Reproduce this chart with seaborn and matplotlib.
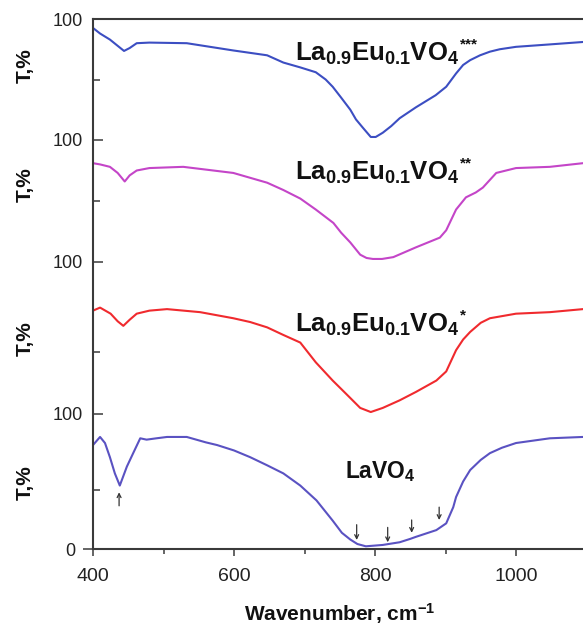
import numpy as np
import pandas as pd
import matplotlib
matplotlib.use("Agg")
import matplotlib.pyplot as plt
import matplotlib.lines as mlines
import matplotlib.transforms as mtransforms
import seaborn as sns

# ---- spectra (transmittance, % of each panel's scale) ----
wn_s3 = [400, 410, 424, 444, 452, 462, 480, 533, 599, 623, 647, 670, 694, 716, 730, 740,
         752, 765, 773, 783, 794, 801, 811, 823, 835, 858, 886, 901, 915, 925, 935, 949,
         963, 977, 1000, 1048, 1095]
t_s3 = [92.6, 88, 83, 73.6, 76, 80, 80.5, 80, 74, 72, 70, 64, 60, 56, 50, 44,
        35, 25, 17, 10, 2.5, 2.5, 6, 11.5, 18, 27, 37, 44, 55, 62, 66, 70,
        73, 75, 77, 79, 81]

wn_s2 = [400, 410, 424, 435, 445, 452, 462, 480, 528, 599, 623, 647, 670, 694, 716, 741,
         752, 765, 779, 788, 797, 810, 826, 858, 892, 901, 915, 929, 943, 953, 972, 1000,
         1048, 1095]
t_s2 = [81, 80, 78, 73, 66, 71, 75, 77, 78, 73, 69, 65, 59, 52, 43, 32,
        24, 16, 6, 3.3, 2.5, 2.5, 4, 12, 20, 26, 43, 53, 57, 61, 73, 77,
        78, 81]

wn_s1 = [400, 410, 425, 435, 443, 452, 462, 480, 505, 552, 599, 623, 647, 670, 694, 716,
         740, 752, 765, 779, 794, 811, 835, 858, 887, 901, 915, 925, 935, 950, 963, 1000,
         1048, 1095]
t_s1 = [68, 70, 66, 61, 58, 62, 66, 68, 69, 67, 63, 60.5, 57, 52, 47, 34,
        22, 16.5, 10.5, 4, 1.3, 4, 9, 14.5, 22, 28, 42, 49, 54, 60, 63, 66,
        67, 69]

wn_la = [400, 410, 417, 424, 431, 438, 448, 457, 467, 476, 490, 505, 533, 560, 576, 600,
         623, 647, 670, 694, 717, 740, 753, 765, 775, 787, 811, 835, 850, 858, 887, 901,
         911, 915, 925, 935, 950, 963, 980, 1000, 1048, 1095]
t_la = [77, 83, 78.5, 68, 56, 47, 61, 71, 82, 81, 82, 83, 83, 79, 77, 73,
        68, 62, 56, 47, 36, 21, 12, 7, 3.7, 2, 3, 5, 7.5, 9, 14, 19,
        31, 38.5, 50, 58.5, 66, 71, 75, 78.5, 82, 83]

series_names = ["LaVO4", "S1", "S2", "S3"]
series_wn = [wn_la, wn_s1, wn_s2, wn_s3]
series_t = [t_la, t_s1, t_s2, t_s3]
series_colors = ["#5a52c2", "#f02a2e", "#c445c8", "#3c4ec2"]
series_labels = [r"LaVO$_4$",
                 r"La$_{0.9}$Eu$_{0.1}$VO$_4$",
                 r"La$_{0.9}$Eu$_{0.1}$VO$_4$",
                 r"La$_{0.9}$Eu$_{0.1}$VO$_4$"]
series_marks = ["", "*", "**", "***"]

# band markers on the LaVO4 spectrum (wavenumber, T tail, T head)
up_arrows = [(437, 32, 42)]
down_arrows = [(774, 18, 6.7), (818, 16, 5), (852, 21.5, 12), (891, 31, 21.5)]

y_tick_labels = ["0", "100", "100", "100", "100"]

# ---- stacked layout: each panel maps 0..100 % onto [lo, hi] ----
panel_edges = [0, 135, 287, 409, 530]
minor_frac = [0.44, 0.41, 0.50, 0.50]


def to_stack(i, t):
    lo, hi = panel_edges[i], panel_edges[i + 1]
    return lo + np.asarray(t, dtype=float) / 100.0 * (hi - lo)


frames = []
for i, (name, wn, t) in enumerate(zip(series_names, series_wn, series_t)):
    frames.append(pd.DataFrame({"wn": wn, "y": to_stack(i, t), "sample": name}))
df = pd.concat(frames, ignore_index=True)

sns.set_theme(style="ticks")
plt.rcParams["font.family"] = ["Liberation Sans", "DejaVu Sans"]
plt.rcParams["mathtext.fontset"] = "custom"
plt.rcParams["mathtext.rm"] = "Liberation Sans:bold"
plt.rcParams["mathtext.it"] = "Liberation Sans:bold"
plt.rcParams["mathtext.bf"] = "Liberation Sans:bold"
plt.rcParams["mathtext.default"] = "rm"

fig = plt.figure(figsize=(5.83, 6.26), dpi=100)
ax = fig.add_axes([93 / 583, 77 / 626, 493.5 / 583, 530 / 626])

sns.lineplot(data=df, x="wn", y="y", hue="sample", hue_order=series_names,
             palette=dict(zip(series_names, series_colors)), estimator=None,
             sort=False, legend=False, lw=1.5, ax=ax)

ax.set_xlim(400, 1100)
ax.set_ylim(panel_edges[0], panel_edges[-1])

spine_col = "#3a3a3a"
for side in ["left", "top", "bottom"]:
    ax.spines[side].set_linewidth(1.5)
    ax.spines[side].set_color(spine_col)
ax.spines["right"].set_visible(False)

# x axis
ax.set_xticks([400, 600, 800, 1000])
ax.set_xticks([500, 700, 900], minor=True)
ax.tick_params(axis="x", which="major", direction="out", length=5, width=1.1,
               color=spine_col, labelsize=14, pad=9, labelcolor="#222222")
ax.tick_params(axis="x", which="minor", direction="out", length=3.5, width=1.1,
               color=spine_col)
ax.set_xlabel(r"Wavenumber, cm$^{-1}$", fontsize=15, fontweight="bold",
              labelpad=11, color="#111111")

# y axis: "100" on top of every panel, "0" at the bottom
ytick_pos = panel_edges[1:] + panel_edges[:1]
ax.set_yticks(ytick_pos)
ax.set_yticklabels(y_tick_labels[1:] + y_tick_labels[:1])
minor_pos = [panel_edges[i] + f * (panel_edges[i + 1] - panel_edges[i])
             for i, f in enumerate(minor_frac)]
ax.set_yticks(minor_pos, minor=True)
ax.tick_params(axis="y", which="major", direction="in", length=7, width=1.1,
               color=spine_col, labelsize=13, pad=7, labelcolor="#222222")
ax.tick_params(axis="y", which="minor", direction="in", length=5, width=1.1,
               color=spine_col)
ax.set_ylabel("")
yticks = ax.yaxis.get_major_ticks()
zero_tick = yticks[-1]
zero_tick.set_pad(13)
zero_tick.tick1line.set_marker(mlines.TICKLEFT)

# panel axis titles
trans = mtransforms.blended_transform_factory(fig.transFigure, ax.transData)
for y in [66, 210, 364, 483]:
    ax.text(25 / 583, y, "T,%", transform=trans, rotation=90, ha="center",
            va="center", fontsize=15, fontweight="bold", color="#111111")

# sample labels with their asterisk marks
label_pos = [(757, 71, 16.5), (686, 217, 18.5), (686, 369, 18.5), (686, 488, 18.5)]
for (x, y, fs), lab, mark in zip(label_pos, series_labels, series_marks):
    txt = ax.text(x, y, lab, fontsize=fs, fontweight="bold", ha="left",
                  va="baseline", color="#111111")
    if mark:
        ax.annotate(mark, xy=(1.0, 1.0), xycoords=txt, xytext=(0.5, -5.4),
                    textcoords="offset points", ha="left", va="baseline",
                    fontsize=11, fontweight="bold", color="#111111")

# band arrows on LaVO4
arrow_kw = dict(arrowstyle="->", lw=0.9, color="#333333", mutation_scale=7,
                shrinkA=0, shrinkB=0)
for wn, t0, t1 in up_arrows + down_arrows:
    ax.annotate("", xy=(wn, float(to_stack(0, t1))), xytext=(wn, float(to_stack(0, t0))),
                arrowprops=arrow_kw)

fig.savefig("out.png", dpi=100)
